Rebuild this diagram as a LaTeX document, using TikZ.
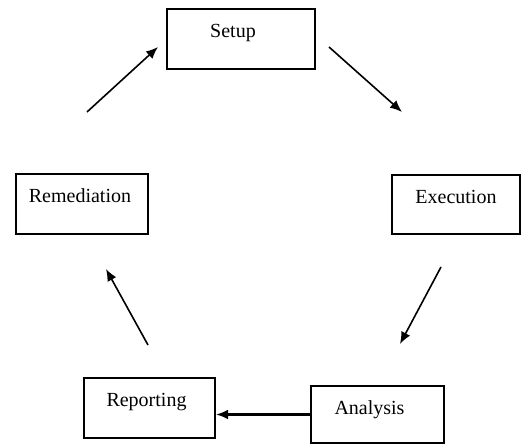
\documentclass[tikz,border=0pt]{standalone}
\usepackage{fontspec}
\setmainfont{Liberation Serif}
\usetikzlibrary{arrows.meta,calc}

\begin{document}
\begin{tikzpicture}[
  x=0.5pt, y=-0.5pt,
  stage/.style={rectangle, draw, line width=1pt, inner sep=0pt, text height=14.5pt, text depth=15.5pt, font=\fontsize{10}{12}\selectfont},
  arrow/.style={-{Latex[length=6pt,width=5pt]}, line width=0.8pt}
]
\useasboundingbox (0,0) rectangle (521,444);

% Stages of the cycle
\node[stage, minimum width=74pt] (setup) at (241,39) {\hspace*{-8pt}Setup};
\node[stage, minimum width=64pt, text depth=15pt] (execution) at (456,204.5) {Execution};
\node[stage, minimum width=66.5pt, text depth=14pt] (analysis) at (377.5,414.5) {\hspace*{-8pt}Analysis};
\node[stage, minimum width=65.5pt] (reporting) at (149.5,408) {\hspace*{-3pt}Reporting};
\node[stage, minimum width=66pt] (remediation) at (82,204) {\hspace*{-2pt}Remediation};

% Free arrow ends
\coordinate (a1) at ($(remediation.north)+(5,-61)$);
\coordinate (a2) at ($(setup.west)+(-8,8)$);
\coordinate (b1) at ($(setup.east)+(13,8)$);
\coordinate (b2) at ($(execution.north west)+(11,-62)$);
\coordinate (c1) at ($(execution.south)+(-15,32)$);
\coordinate (c2) at ($(analysis.north)+(22.5,-41)$);
\coordinate (d1) at ($(reporting.north)+(-1.5,-32)$);
\coordinate (d2) at ($(remediation.south)+(24,34)$);

% Arrows
\draw[arrow] (a1) -- (a2);
\draw[arrow] (b1) -- (b2);
\draw[arrow] (c1) -- (c2);
\draw[arrow, line width=1.2pt] (analysis.west) -- (analysis.west -| reporting.east);
\draw[arrow] (d1) -- (d2);

\end{tikzpicture}
\end{document}
